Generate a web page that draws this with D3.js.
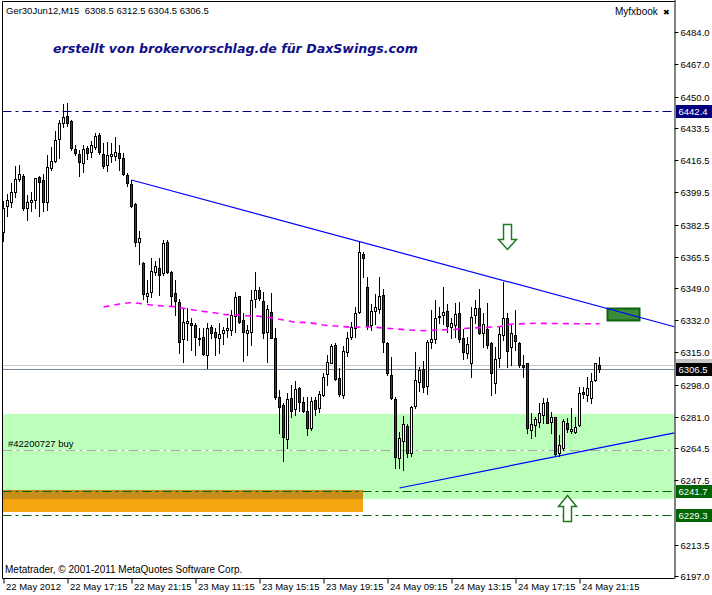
<!DOCTYPE html>
<html><head><meta charset="utf-8">
<script src="https://cdn.jsdelivr.net/npm/d3@7"></script>
<style>html,body{margin:0;padding:0;background:#fff;} svg{display:block;}</style>
</head><body><svg id="c" width="712" height="595"></svg>
<script>
// ---- data (Ger30Jun12, M15) ----
const opens = [6378.8,6392.1,6394.6,6399.9,6406.6,6408.2,6391.4,6394.6,6395.7,6407.6,
6406.0,6394.6,6412.2,6416.2,6427.5,6436.3,6439.8,6437.2,6422.4,6419.6,
6415.2,6423.1,6420.6,6423.6,6429.8,6419.9,6413.9,6418.5,6418.7,6420.1,
6417.5,6408.7,6403.7,6393.2,6373.5,6362.0,6345.0,6346.7,6357.3,6359.4,
6356.8,6373.1,6357.6,6346.2,6341.5,6321.9,6330.4,6330.4,6329.5,6322.0,
6323.0,6313.7,6328.3,6325.6,6322.5,6325.1,6326.9,6326.9,6334.4,6344.8,
6332.1,6325.1,6326.0,6343.2,6348.0,6342.2,6326.0,6336.2,6322.5,6291.3,
6287.3,6269.2,6290.8,6285.0,6296.1,6289.0,6284.1,6274.9,6289.9,6285.5,
6292.6,6303.5,6309.6,6318.9,6301.3,6292.6,6315.1,6323.3,6328.1,6336.2,
6367.0,6349.7,6329.5,6336.9,6337.9,6345.3,6319.8,6303.1,6290.4,6259.5,
6268.3,6276.2,6261.8,6286.9,6299.6,6306.1,6297.5,6320.7,6322.1,6333.5,
6334.8,6336.7,6328.3,6329.5,6335.7,6322.5,6314.5,6309.3,6334.8,6338.3,
6325.1,6327.2,6319.8,6298.7,6311.9,6324.2,6333.4,6318.1,6324.2,6320.2,
6308.4,6309.3,6274.1,6276.7,6278.5,6282.0,6288.7,6278.5,6280.8,6261.8,
6264.4,6278.0,6273.7,6273.2,6276.7,6294.0,6292.5,6290.8,6300.5,6308.5];
const highs = [6395.0,6398.5,6404.3,6413.6,6414.0,6409.4,6398.1,6399.9,6407.3,6408.2,
6409.0,6419.2,6423.6,6431.9,6437.7,6446.0,6446.5,6437.7,6424.5,6421.9,
6424.5,6424.2,6426.6,6431.0,6430.7,6425.4,6426.3,6425.4,6428.9,6424.5,
6420.1,6409.6,6406.0,6393.7,6379.1,6363.0,6353.2,6364.7,6363.3,6365.0,
6374.4,6374.4,6358.0,6353.2,6343.2,6337.8,6338.3,6333.0,6330.4,6327.7,
6327.7,6330.4,6329.5,6328.1,6330.4,6328.3,6333.0,6337.4,6347.1,6345.0,
6335.7,6329.5,6348.0,6357.6,6349.7,6347.1,6340.1,6346.6,6327.7,6295.2,
6288.2,6293.4,6297.8,6300.0,6297.0,6291.7,6291.7,6291.7,6291.7,6294.7,
6304.0,6313.7,6319.3,6319.8,6306.6,6318.4,6325.6,6331.3,6339.2,6373.1,
6367.8,6355.0,6340.4,6345.7,6355.0,6348.3,6320.4,6312.8,6291.7,6273.2,
6281.6,6277.1,6286.9,6315.4,6307.5,6310.5,6321.6,6337.4,6342.7,6339.2,
6349.7,6340.5,6333.0,6340.9,6341.5,6327.2,6323.3,6339.2,6342.7,6348.3,
6336.0,6340.9,6320.7,6318.1,6328.6,6352.4,6335.7,6329.5,6337.4,6320.7,
6313.7,6309.6,6282.9,6281.1,6288.2,6290.8,6291.1,6283.8,6281.1,6271.4,
6279.9,6280.2,6285.5,6281.1,6296.6,6297.0,6301.9,6304.3,6309.6,6312.5];
const lows = [6374.0,6387.2,6392.0,6397.2,6405.5,6390.2,6385.1,6389.7,6391.1,6387.2,
6389.9,6390.2,6411.3,6415.7,6417.8,6434.2,6434.7,6421.9,6419.2,6408.3,
6410.4,6417.1,6418.4,6422.4,6420.0,6412.5,6410.8,6415.7,6416.6,6411.3,
6408.7,6403.0,6392.0,6371.4,6361.7,6343.0,6341.5,6344.4,6355.9,6345.3,
6355.9,6357.0,6340.0,6334.8,6314.6,6309.8,6321.6,6316.3,6313.7,6318.9,
6313.5,6307.0,6322.5,6313.7,6314.5,6319.3,6323.3,6324.2,6326.0,6330.4,
6310.7,6313.7,6318.9,6339.2,6342.7,6322.5,6309.8,6322.5,6290.5,6272.3,
6257.7,6264.8,6281.1,6282.0,6284.3,6283.8,6271.5,6274.1,6282.0,6283.4,
6292.2,6297.8,6309.3,6300.5,6292.2,6290.8,6313.3,6322.1,6323.3,6335.7,
6355.0,6327.4,6326.9,6329.8,6335.7,6315.4,6303.1,6290.3,6254.2,6253.9,
6253.0,6260.0,6260.6,6285.5,6294.7,6294.3,6292.9,6317.2,6319.8,6330.4,
6329.8,6326.0,6322.5,6323.3,6320.7,6311.4,6311.9,6302.2,6330.4,6324.7,
6318.1,6317.2,6292.5,6293.4,6307.5,6321.6,6307.5,6308.4,6316.3,6307.5,
6301.9,6272.3,6269.7,6270.9,6275.9,6277.6,6277.6,6272.7,6260.9,6260.4,
6263.5,6273.2,6272.7,6272.3,6276.4,6290.8,6289.6,6288.5,6300.1,6304.5];
const closes = [6391.4,6395.3,6399.5,6406.4,6409.0,6391.1,6394.6,6395.3,6406.9,6405.2,
6394.6,6413.1,6416.1,6427.1,6435.9,6439.1,6435.9,6422.7,6420.1,6415.7,
6422.4,6420.1,6424.5,6429.4,6420.6,6413.6,6419.2,6419.6,6420.6,6417.8,
6409.0,6404.3,6392.5,6373.1,6375.3,6346.0,6346.2,6358.0,6360.6,6355.9,
6372.6,6357.3,6345.0,6342.2,6320.7,6331.3,6331.6,6329.5,6323.0,6322.4,
6314.0,6327.7,6325.1,6323.0,6324.8,6326.9,6327.7,6334.8,6344.4,6331.3,
6325.6,6326.9,6342.7,6348.0,6343.6,6325.1,6337.9,6322.8,6291.7,6286.4,
6270.6,6290.4,6284.3,6295.7,6289.0,6284.1,6275.3,6289.4,6285.2,6292.9,
6302.2,6310.2,6318.4,6301.0,6292.9,6315.8,6322.8,6328.3,6335.7,6367.8,
6365.0,6329.2,6337.1,6339.2,6344.8,6320.3,6304.0,6290.8,6260.0,6269.7,
6277.1,6261.8,6286.4,6300.5,6305.8,6297.0,6320.4,6321.9,6333.0,6334.4,
6336.2,6328.9,6330.4,6335.3,6321.9,6315.4,6319.5,6333.9,6338.3,6325.4,
6329.8,6318.9,6304.0,6311.4,6324.7,6333.0,6315.8,6325.1,6321.2,6308.4,
6307.5,6275.0,6277.3,6279.7,6282.9,6288.2,6278.0,6281.1,6261.2,6266.2,
6279.0,6274.4,6274.4,6275.9,6293.4,6293.1,6296.1,6300.1,6309.3,6306.5];

const xTickBars = [0,16,32,48,64,80,96,112,128,144];
const xTickLabels = ["22 May 2012","22 May 17:15","22 May 21:15","23 May 11:15","23 May 15:15",
  "23 May 19:15","24 May 09:15","24 May 13:15","24 May 17:15","24 May 21:15"];
const yTickValues = [6484.0,6467.0,6450.0,6433.5,6416.5,6399.5,6382.5,6365.5,6349.0,6332.0,
  6315.0,6298.0,6281.0,6264.5,6247.5,6213.5,6197.0];

// moving average (magenta), read at points
const maBars = [25,29,32,36,38,43,46,49,52,55,58,61,64,67,70,73,76,80,87,91,96,101,105,109,113,116,121,124,127,133,143,149];
const maValues = [6339.0,6340.6,6341.4,6340.3,6339.8,6339.1,6337.9,6336.9,6336.2,6335.1,6334.8,6334.4,6334.1,6333.3,6332.1,6330.9,6330.9,6329.5,6328.3,6328.6,6327.8,6326.9,6326.5,6326.9,6327.2,6327.8,6328.3,6328.6,6330.0,6330.4,6330.2,6330.2];

// horizontal levels
const levelNavy = 6442.4;
const levelsGreen = [6241.7, 6229.3];
const orderLevel = 6263.5;
const orderLabel = "#42200727 buy";
const bidPrice = 6306.5;
const askPrice = 6308.5;
// trendlines: [bar1, price1, bar2, price2]
const trendDown = [32, 6406.0, 89, 6373.5];
const trendUp = [99, 6243.5, 138, 6260.0];
// rectangles: [bar1, bar2, priceTop, priceBottom]
const greenZone = [-1, 171, 6282.5, 6237.5];
const orangeZone = [-0.2, 89.9, 6242.4, 6230.8];
const smallBox = [150.9, 159, 6338.5, 6332.1];
// arrows: [bar, price at tip/top]
const arrowDown = [126, 6382.8];
const arrowUp = [141, 6239.8];

// ---- drawing ----
const svg = d3.select("#c");
const W = 712, H = 595;
const plotL = 2.5, plotR = 674.5, plotT = 1.5, plotB = 578.5;
const x = d3.scaleLinear().domain([0, 149]).range([3.5, 599.5]);
const y = d3.scaleLinear().domain([6196, 6501]).range([578, 0]);
const ry = v => Math.round(y(v)) + 0.5;
const FONT = "'Liberation Sans', Arial, sans-serif";

svg.append("rect").attr("width", W).attr("height", H).attr("fill", "#fff");

const g = svg.append("g");
const clipId = "pc";
svg.append("clipPath").attr("id", clipId).append("rect")
  .attr("x", plotL).attr("y", plotT).attr("width", plotR - plotL).attr("height", plotB - plotT);
const pg = g.append("g").attr("clip-path", `url(#${clipId})`);

const rectAt = (r) => ({x: x(r[0]), y: y(r[2]), w: x(r[1]) - x(r[0]), h: y(r[3]) - y(r[2])});
// green zone
{
  const r = rectAt(greenZone);
  pg.append("rect").attr("x", plotL).attr("y", Math.round(r.y)).attr("width", plotR - plotL)
    .attr("height", Math.round(r.h)).attr("fill", "#bbffbb");
}
// orange zone + overlap with green zone
{
  const r = rectAt(orangeZone);
  const x0 = Math.round(r.x), x1 = Math.round(r.x + r.w);
  const yt = Math.round(r.y), yb = Math.round(r.y + r.h);
  const gb = Math.round(y(greenZone[3]));
  pg.append("rect").attr("x", x0).attr("y", yt).attr("width", x1 - x0).attr("height", yb - yt).attr("fill", "#f5a50f");
  pg.append("rect").attr("x", x0).attr("y", yt).attr("width", x1 - x0).attr("height", Math.max(0, gb - yt)).attr("fill", "#c88e1c");
}

// bid / ask lines
pg.append("line").attr("x1", plotL).attr("x2", plotR).attr("y1", ry(askPrice)).attr("y2", ry(askPrice))
  .attr("stroke", "#c8c8c8").attr("stroke-width", 1);
pg.append("line").attr("x1", plotL).attr("x2", plotR).attr("y1", ry(bidPrice)).attr("y2", ry(bidPrice))
  .attr("stroke", "#778899").attr("stroke-width", 1);

// order level line
pg.append("line").attr("x1", plotL).attr("x2", plotR).attr("y1", ry(orderLevel)).attr("y2", ry(orderLevel))
  .attr("stroke", "#fff").attr("stroke-width", 1);
pg.append("line").attr("x1", plotL).attr("x2", plotR).attr("y1", ry(orderLevel)).attr("y2", ry(orderLevel))
  .attr("stroke", "#a8a8a8").attr("stroke-width", 1).attr("stroke-dasharray", "10,4,3,4");

// candles
const idx = d3.range(opens.length);
const cg = pg.append("g");
cg.selectAll("line.w").data(idx).join("line")
  .attr("x1", i => x(i)).attr("x2", i => x(i))
  .attr("y1", i => Math.round(y(highs[i]))).attr("y2", i => Math.round(y(lows[i])) + 1)
  .attr("stroke", "#000").attr("stroke-width", 1);
cg.selectAll("rect.b").data(idx).join("rect")
  .attr("x", i => x(i) - 1)
  .attr("y", i => ry(Math.max(opens[i], closes[i])))
  .attr("width", 2)
  .attr("height", i => Math.max(1, ry(Math.min(opens[i], closes[i])) - ry(Math.max(opens[i], closes[i]))))
  .attr("fill", i => closes[i] >= opens[i] ? "#fff" : "#cc0000")
  .attr("stroke", "#000").attr("stroke-width", 1);

// moving average
pg.append("path").datum(d3.range(maBars.length))
  .attr("d", d3.line().x(i => x(maBars[i])).y(i => y(maValues[i])))
  .attr("fill", "none").attr("stroke", "#ff00ff").attr("stroke-width", 1.6)
  .attr("stroke-dasharray", "6,5");

// navy level
pg.append("line").attr("x1", plotL).attr("x2", plotR).attr("y1", ry(levelNavy)).attr("y2", ry(levelNavy))
  .attr("stroke", "#00007f").attr("stroke-width", 1).attr("stroke-dasharray", "9,4,3,4");
// green levels
levelsGreen.forEach(v => {
  pg.append("line").attr("x1", plotL).attr("x2", plotR).attr("y1", ry(v)).attr("y2", ry(v))
    .attr("stroke", "#006400").attr("stroke-width", 1).attr("stroke-dasharray", "9,4,3,4");
});

// small green box
{
  const r = rectAt(smallBox);
  pg.append("rect").attr("x", Math.round(r.x) + 0.5).attr("y", Math.round(r.y) + 0.5)
    .attr("width", Math.round(r.w)).attr("height", Math.round(r.h))
    .attr("fill", "#3a8c3a").attr("stroke", "#0f640f").attr("stroke-width", 2);
}

// trendlines (extended to right edge)
function trend(t) {
  const slope = (t[3] - t[1]) / (t[2] - t[0]);
  const endBar = x.invert(plotR);
  return [[x(t[0]), y(t[1])], [plotR, y(t[1] + slope * (endBar - t[0]))]];
}
[trendDown, trendUp].forEach(t => {
  pg.append("path").attr("d", d3.line()(trend(t))).attr("stroke", "#0000ff")
    .attr("stroke-width", 1.2).attr("fill", "none");
});

// arrows
function arrowPath(cx, y0, down) {
  const p = d3.path();
  if (down) {
    p.moveTo(cx - 4, y0); p.lineTo(cx + 4, y0); p.lineTo(cx + 4, y0 + 15); p.lineTo(cx + 9, y0 + 15);
    p.lineTo(cx, y0 + 25); p.lineTo(cx - 9, y0 + 15); p.lineTo(cx - 4, y0 + 15); p.closePath();
  } else {
    p.moveTo(cx, y0); p.lineTo(cx + 9, y0 + 11); p.lineTo(cx + 4, y0 + 11); p.lineTo(cx + 4, y0 + 26);
    p.lineTo(cx - 4, y0 + 26); p.lineTo(cx - 4, y0 + 11); p.lineTo(cx - 9, y0 + 11); p.closePath();
  }
  return p.toString();
}
pg.append("path").attr("d", arrowPath(x(arrowDown[0]), Math.round(y(arrowDown[1])) + 0.5, true))
  .attr("fill", "#fff").attr("stroke", "#1e7b1e").attr("stroke-width", 1.5);
pg.append("path").attr("d", arrowPath(x(arrowUp[0]), Math.round(y(arrowUp[1])) + 0.5, false))
  .attr("fill", "#fff").attr("stroke", "#1e7b1e").attr("stroke-width", 1.5);

// order label
g.append("text").attr("x", 8).attr("y", ry(orderLevel) - 4).text(orderLabel)
  .attr("font-family", FONT).attr("font-size", 9.5).attr("fill", "#000");

// frame
g.append("path").attr("d", `M${plotL},${plotB}V${plotT}H${plotR}`).attr("fill", "none").attr("stroke", "#000");

// axes
const yAxis = d3.axisRight(y).tickValues(yTickValues).tickFormat(d3.format(".1f")).tickSize(4).tickSizeOuter(0).tickPadding(2);
const ya = g.append("g").attr("transform", `translate(${plotR},0)`).call(yAxis);
ya.select(".domain").attr("d", `M0.5,0V${plotB}`).attr("stroke", "#000");
ya.selectAll(".tick").attr("transform", d => `translate(0,${ry(d)})`);
ya.selectAll("text").attr("font-family", FONT).attr("font-size", 9.5).attr("fill", "#000");
ya.selectAll("line").attr("stroke", "#000");

const xAxis = d3.axisBottom(x).tickValues(xTickBars).tickFormat((d, i) => xTickLabels[i]).tickSize(5).tickSizeOuter(0);
const xa = g.append("g").attr("transform", `translate(0,${plotB})`).call(xAxis);
xa.select(".domain").attr("d", `M${plotL},0H${plotR}`).attr("stroke", "#000");
xa.selectAll("text").attr("text-anchor", "start").attr("x", 2).attr("y", 5).attr("dy", "0.71em")
  .attr("font-family", FONT).attr("font-size", 9.5).attr("fill", "#000");
xa.selectAll("line").attr("stroke", "#000");

// price label boxes on axis
function priceBox(v, bg, fg, withText) {
  const yy = y(v);
  g.append("rect").attr("x", plotR + 1.5).attr("y", Math.round(yy) - 6).attr("width", 36).attr("height", 13).attr("fill", bg);
  if (withText) {
    g.append("text").attr("x", plotR + 4).attr("y", Math.round(yy) + 0.5).attr("dy", "0.35em")
      .text(d3.format(".1f")(v)).attr("font-family", FONT).attr("font-size", 9.5).attr("fill", fg);
  }
}
priceBox(levelNavy, "#00007f", "#fff", true);
priceBox(askPrice, "#c8c8c8", "#fff", false);
priceBox(bidPrice, "#000", "#fff", true);
levelsGreen.forEach(v => priceBox(v, "#006400", "#fff", true));

// texts
g.append("text").attr("x", 6).attr("y", 14).text("Ger30Jun12,M15  6308.5 6312.5 6304.5 6306.5")
  .attr("font-family", FONT).attr("font-size", 9.5).attr("fill", "#000").style("white-space", "pre");
g.append("text").attr("x", 53).attr("y", 53).text("erstellt von brokervorschlag.de für DaxSwings.com")
  .attr("font-family", "'DejaVu Sans', Verdana, sans-serif").attr("font-weight", "bold").attr("font-style", "italic")
  .attr("font-size", 12.6).attr("fill", "#10108a");
g.append("text").attr("x", 615).attr("y", 15).text("Myfxbook")
  .attr("font-family", FONT).attr("font-size", 10).attr("fill", "#000");
g.append("text").attr("x", 663).attr("y", 15).text("✖")
  .attr("font-family", "'DejaVu Sans', sans-serif").attr("font-size", 8).attr("fill", "#000");
g.append("text").attr("x", 5).attr("y", 573).text("Metatrader, © 2001-2011 MetaQuotes Software Corp.")
  .attr("font-family", FONT).attr("font-size", 10).attr("fill", "#000");
</script></body></html>
